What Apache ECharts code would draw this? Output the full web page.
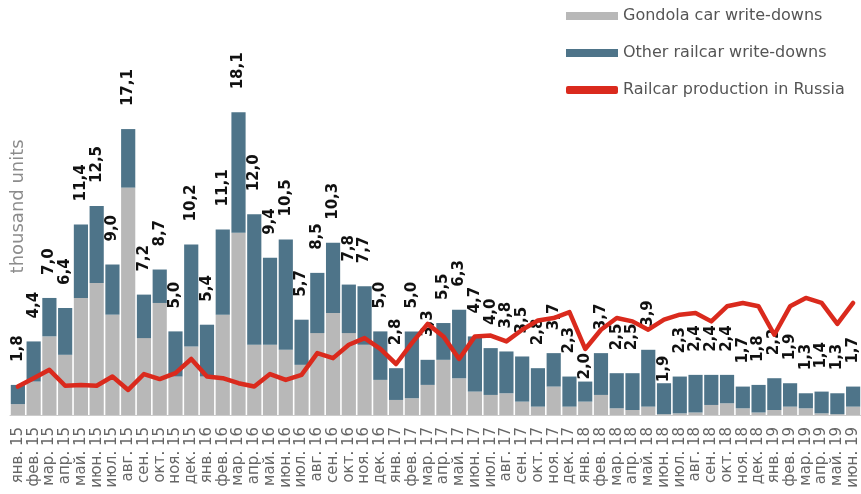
<!DOCTYPE html>
<html>
<head>
<meta charset="utf-8">
<script src="https://cdn.jsdelivr.net/npm/echarts@6/dist/echarts.min.js"></script>
<style>
  html, body { margin: 0; padding: 0; background: #fff; }
  #chart { width: 861px; height: 494px; }
</style>
</head>
<body>
<div id="chart"></div>
<script>
// months on the x axis
var categories = [
  'янв. 15', 'фев. 15', 'мар. 15', 'апр. 15', 'май. 15', 'июн. 15', 'июл. 15', 'авг. 15', 'сен. 15', 'окт. 15', 'ноя. 15', 'дек. 15',
  'янв. 16', 'фев. 16', 'мар. 16', 'апр. 16', 'май. 16', 'июн. 16', 'июл. 16', 'авг. 16', 'сен. 16', 'окт. 16', 'ноя. 16', 'дек. 16',
  'янв. 17', 'фев. 17', 'мар. 17', 'апр. 17', 'май. 17', 'июн. 17', 'июл. 17', 'авг. 17', 'сен. 17', 'окт. 17', 'ноя. 17', 'дек. 17',
  'янв. 18', 'фев. 18', 'мар. 18', 'апр. 18', 'май. 18', 'июн. 18', 'июл. 18', 'авг. 18', 'сен. 18', 'окт. 18', 'ноя. 18', 'дек. 18',
  'янв. 19', 'фев. 19', 'мар. 19', 'апр. 19', 'май. 19', 'июн. 19'
];

// thousand units
var gondola = [
  0.65, 2.0, 4.7, 3.6, 7.0, 7.9, 6.0, 13.6, 4.6, 6.7, 2.3, 4.1,
  2.3, 6.0, 10.9, 4.2, 4.2, 3.9, 3.0, 4.9, 6.1, 4.9, 4.2, 2.1,
  0.9, 1.0, 1.8, 3.3, 2.2, 1.4, 1.2, 1.3, 0.8, 0.5, 1.7, 0.5,
  0.8, 1.2, 0.4, 0.3, 0.5, 0.05, 0.1, 0.15, 0.6, 0.7, 0.4, 0.15,
  0.3, 0.5, 0.4, 0.1, 0.05, 0.5
];

var other = [
  1.15, 2.4, 2.3, 2.8, 4.4, 4.6, 3.0, 3.5, 2.6, 2.0, 2.7, 6.1,
  3.1, 5.1, 7.2, 7.8, 5.2, 6.6, 2.7, 3.6, 4.2, 2.9, 3.5, 2.9,
  1.9, 4.0, 1.5, 2.2, 4.1, 3.3, 2.8, 2.5, 2.7, 2.3, 2.0, 1.8,
  1.2, 2.5, 2.1, 2.2, 3.4, 1.85, 2.2, 2.25, 1.8, 1.7, 1.3, 1.65,
  1.9, 1.4, 0.9, 1.3, 1.25, 1.2
];

var production = [
  1.7, 2.2, 2.7, 1.75, 1.8, 1.75, 2.3, 1.5, 2.45, 2.15, 2.5, 3.35,
  2.3, 2.2, 1.9, 1.7, 2.45, 2.1, 2.4, 3.7, 3.4, 4.2, 4.6, 3.95,
  3.05, 4.3, 5.45, 4.7, 3.35, 4.7, 4.75, 4.4, 5.1, 5.65, 5.8, 6.15,
  3.95, 5.1, 5.8, 5.6, 5.1, 5.7, 6.0, 6.1, 5.6, 6.5, 6.7, 6.5,
  4.8, 6.5, 7.0, 6.7, 5.45, 6.7
];

var FONT = 'DejaVu Sans';

// some totals sit right on top of their bar in the original
var labelDistance = { 36: 2, 41: 1 };

var otherData = other.map(function (v, i) {
  var item = { value: v };
  if (labelDistance[i] !== undefined) {
    item.label = { distance: labelDistance[i] };
  }
  return item;
});

var chart = echarts.init(document.getElementById('chart'), null, { renderer: 'canvas' });

var option = {
  animation: false,
  backgroundColor: '#fff',
  textStyle: { fontFamily: FONT },
  legend: {
    orient: 'vertical',
    left: 561,
    top: 3,
    itemWidth: 52,
    itemHeight: 8,
    itemGap: 21,
    textStyle: { fontFamily: FONT, fontSize: 16, color: '#555' },
    data: [
      { name: 'Gondola car write-downs', icon: 'rect' },
      { name: 'Other railcar write-downs', icon: 'rect' },
      { name: 'Railcar production in Russia', icon: 'roundRect' }
    ]
  },
  grid: { left: 10, right: 0, top: 13.7, bottom: 79 },
  xAxis: {
    type: 'category',
    data: categories,
    axisLine: { lineStyle: { color: '#ccc' } },
    axisTick: { length: 4, lineStyle: { color: '#ccc' } },
    axisLabel: {
      interval: 0,
      rotate: 90,
      margin: 12,
      fontFamily: FONT,
      fontSize: 15,
      color: '#666'
    }
  },
  yAxis: {
    type: 'value',
    min: 0,
    max: 24,
    name: 'thousand units',
    nameLocation: 'middle',
    nameRotate: 90,
    nameGap: -17,
    nameTextStyle: { fontFamily: FONT, fontSize: 18, color: '#8c8c8c', padding: [0, 0, 0, 16] },
    axisLine: { show: false },
    axisTick: { show: false },
    axisLabel: { show: false },
    splitLine: { show: false }
  },
  series: [
    {
      name: 'Gondola car write-downs',
      type: 'bar',
      stack: 'w',
      barCategoryGap: '10%',
      itemStyle: { color: '#b8b8b8' },
      data: gondola
    },
    {
      name: 'Other railcar write-downs',
      type: 'bar',
      stack: 'w',
      itemStyle: { color: '#4e7489' },
      label: {
        show: true,
        position: 'top',
        rotate: 90,
        align: 'left',
        verticalAlign: 'middle',
        distance: 23,
        fontFamily: FONT,
        fontSize: 15,
        fontWeight: 'bold',
        color: '#111',
        formatter: function (p) {
          var total = gondola[p.dataIndex] + other[p.dataIndex];
          return total.toFixed(1).replace('.', ',');
        }
      },
      data: otherData
    },
    {
      name: 'Railcar production in Russia',
      type: 'line',
      symbol: 'none',
      z: 5,
      itemStyle: { color: '#da2a1d' },
      lineStyle: { color: '#da2a1d', width: 4.5, join: 'round', cap: 'round' },
      data: production
    }
  ]
};

chart.setOption(option);
</script>
</body>
</html>
